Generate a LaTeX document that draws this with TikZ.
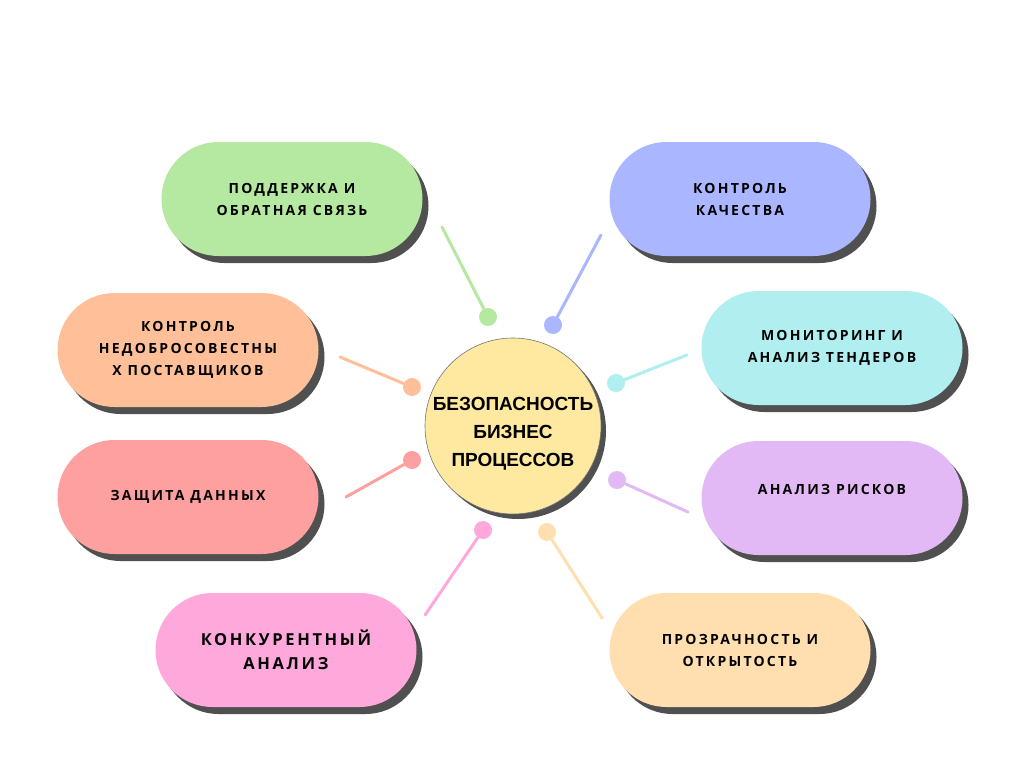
\documentclass[tikz,border=0pt]{standalone}
\usepackage{fontspec}
\setmainfont{Open Sans}
\newfontfamily\pillfont[LetterSpace=16]{Open Sans}
\newfontfamily\hubfont{Liberation Sans}
\usetikzlibrary{shapes.misc, shadows}
\definecolor{cgreen}{RGB}{181,232,160}
\definecolor{cblue}{RGB}{170,182,255}
\definecolor{cpeach}{RGB}{255,192,153}
\definecolor{ccyan}{RGB}{176,238,240}
\definecolor{cred}{RGB}{255,160,160}
\definecolor{cviolet}{RGB}{226,185,244}
\definecolor{cpink}{RGB}{255,168,220}
\definecolor{capricot}{RGB}{255,223,176}
\definecolor{chub}{RGB}{255,233,160}
\definecolor{cshadow}{RGB}{80,80,80}
\tikzset{pill/.style={rounded rectangle,fill=#1,minimum width=265pt,minimum height=114pt,align=center,inner sep=2pt,
    font=\pillfont\bfseries\fontsize{14}{22}\selectfont,
    drop shadow={shadow xshift=6pt,shadow yshift=-7pt,fill=cshadow,opacity=1}},
  hub/.style={circle,fill=chub,draw=black!55,line width=0.6pt,minimum size=176pt,align=center,inner sep=-14pt,
    font=\hubfont\bfseries\fontsize{19}{28}\selectfont,
    drop shadow={shadow xshift=5pt,shadow yshift=-5pt,fill=cshadow,opacity=1}},
  dot/.style={circle,fill=#1,minimum size=18pt,inner sep=0pt},
  stem/.style={draw=#1,line width=3pt,line cap=round}}

\begin{document}
\begin{tikzpicture}[x=1pt,y=-1pt]
\useasboundingbox[fill=white] (0,0) rectangle (1024,768);
% centre
\node[hub, text height=84pt] (hub) at (513,426) {БЕЗОПАСНОСТЬ\\БИЗНЕС\\ПРОЦЕССОВ};
% left column
\node[pill=cgreen] (support) at (292,199) {ПОДДЕРЖКА И\\ОБРАТНАЯ СВЯЗЬ};
\node[pill=cpeach] (suppliers) at (188,350) {КОНТРОЛЬ\\НЕДОБРОСОВЕСТНЫ\\Х ПОСТАВЩИКОВ};
\node[pill=cred] (data) at (188,497) {ЗАЩИТА ДАННЫХ};
\node[pill=cpink, font=\pillfont\bfseries\fontsize{16.5}{24}\selectfont] (rivals) at (286,650) {КОНКУРЕНТНЫЙ\\АНАЛИЗ};
% right column
\node[pill=cblue] (quality) at (740,199) {КОНТРОЛЬ\\КАЧЕСТВА};
\node[pill=ccyan] (tenders) at (832,348) {МОНИТОРИНГ И\\АНАЛИЗ ТЕНДЕРОВ};
\node[pill=cviolet, text depth=18pt] (risks) at (832,498) {АНАЛИЗ РИСКОВ};
\node[pill=capricot] (openness) at (740,650) {ПРОЗРАЧНОСТЬ И\\ОТКРЫТОСТЬ};
% stems
\coordinate (sSupport) at (442,227);
\coordinate (sSuppliers) at (340,357);
\coordinate (sData) at (346,497);
\coordinate (sRivals) at (425,615);
\coordinate (sQuality) at (601,235);
\coordinate (sTenders) at (687,355);
\coordinate (sRisks) at (688,512);
\coordinate (sOpenness) at (602,618);
\node[dot=cgreen] (dSupport) at (488,317) {};
\node[dot=cpeach] (dSuppliers) at (412,387) {};
\node[dot=cred] (dData) at (412,460) {};
\node[dot=cpink] (dRivals) at (483,530) {};
\node[dot=cblue] (dQuality) at (553,325) {};
\node[dot=ccyan] (dTenders) at (616,383) {};
\node[dot=cviolet] (dRisks) at (617,480) {};
\node[dot=capricot] (dOpenness) at (547,532) {};
\draw[stem=cgreen] (sSupport) -- (dSupport);
\draw[stem=cpeach] (sSuppliers) -- (dSuppliers);
\draw[stem=cred] (sData) -- (dData);
\draw[stem=cpink] (sRivals) -- (dRivals);
\draw[stem=cblue] (sQuality) -- (dQuality);
\draw[stem=ccyan] (sTenders) -- (dTenders);
\draw[stem=cviolet] (sRisks) -- (dRisks);
\draw[stem=capricot] (sOpenness) -- (dOpenness);
\end{tikzpicture}
\end{document}
